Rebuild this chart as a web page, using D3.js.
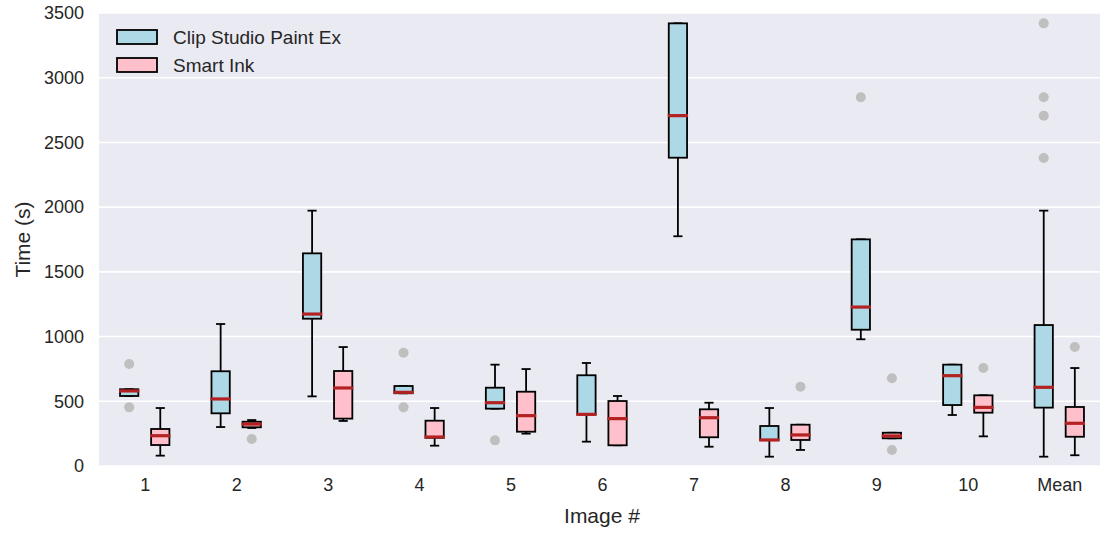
<!DOCTYPE html>
<html>
<head>
<meta charset="UTF-8">
<title>Time per image</title>
<style>
    body { margin: 0; background: #fff; }
    svg text { font-family: "Liberation Sans", Arial, sans-serif; fill: #262626; }
    .axis path, .axis line { display: none; }
    .grid line { stroke: #fff; stroke-width: 1.6; }
    .box { stroke: #000; stroke-width: 1.8; }
    .whisker { stroke: #000; stroke-width: 1.8; }
    .median { stroke: #b22222; stroke-width: 3.2; }
    .flier { fill: #bfbfbf; }
</style>
</head>
<body>
<script src="https://d3js.org/d3.v7.min.js"></script>
<script>
    var categories = ["1", "2", "3", "4", "5", "6", "7", "8", "9", "10", "Mean"];
    var yTicks = [0, 500, 1000, 1500, 2000, 2500, 3000, 3500];

    // Clip Studio Paint Ex
    var clipLow    = [541, 301, 538, 562, 443, 188, 1775, 72, 979, 394, 72];
    var clipQ1     = [541, 407, 1138, 562, 443, 399, 2382, 201, 1053, 471, 451];
    var clipMedian = [580, 518, 1174, 569, 489, 399, 2707, 201, 1228, 698, 608];
    var clipQ3     = [593, 732, 1643, 618, 605, 701, 3420, 309, 1751, 783, 1089];
    var clipHigh   = [593, 1097, 1973, 618, 783, 796, 3420, 448, 1751, 783, 1973];
    var clipFliers = [[788, 453], [], [], [875, 453], [198], [], [], [], [2849], [], [3420, 2849, 2707, 2380]];

    // Smart Ink
    var inkLow    = [80, 294, 348, 157, 250, 160, 149, 124, 214, 229, 83];
    var inkQ1     = [162, 299, 366, 218, 265, 160, 222, 201, 214, 412, 226];
    var inkMedian = [234, 324, 603, 224, 389, 366, 373, 240, 232, 453, 330];
    var inkQ3     = [286, 342, 734, 350, 574, 502, 438, 319, 257, 546, 456];
    var inkHigh   = [448, 355, 919, 448, 749, 541, 489, 319, 257, 546, 757];
    var inkFliers = [[], [209], [], [], [], [], [], [613], [678, 124], [757], [919]];

    var series = [
        {name: "Clip Studio Paint Ex", fill: "#add8e6", offset: -0.17,
         low: clipLow, q1: clipQ1, med: clipMedian, q3: clipQ3, high: clipHigh, fliers: clipFliers},
        {name: "Smart Ink", fill: "#ffc0cb", offset: 0.17,
         low: inkLow, q1: inkQ1, med: inkMedian, q3: inkQ3, high: inkHigh, fliers: inkFliers}
    ];

    var width = 1100, height = 533;
    var margin = {top: 13, left: 99, bottom: 67};
    var plotW = 1006, plotH = height - margin.top - margin.bottom;

    var x = d3.scaleLinear().domain([0.5, categories.length + 0.5]).range([0, plotW]);
    var y = d3.scaleLinear().domain([0, 3500]).range([plotH, 0]);
    var boxW = x(0.2) - x(0);
    var capW = x(0.1) - x(0);

    var svg = d3.select("body").append("svg")
        .attr("width", width)
        .attr("height", height);

    var g = svg.append("g")
        .attr("transform", "translate(" + margin.left + "," + margin.top + ")");

    g.append("rect")
        .attr("width", plotW)
        .attr("height", plotH)
        .attr("fill", "#eaeaf2");

    g.append("g").attr("class", "grid")
        .selectAll("line").data(yTicks).join("line")
        .attr("x1", 0).attr("x2", plotW)
        .attr("y1", function (d) { return y(d); })
        .attr("y2", function (d) { return y(d); });

    series.forEach(function (s) {
        var sg = g.append("g");
        categories.forEach(function (c, i) {
            var cx = x(i + 1 + s.offset);
            // whiskers
            sg.append("line").attr("class", "whisker")
                .attr("x1", cx).attr("x2", cx)
                .attr("y1", y(s.q3[i])).attr("y2", y(s.high[i]));
            sg.append("line").attr("class", "whisker")
                .attr("x1", cx).attr("x2", cx)
                .attr("y1", y(s.q1[i])).attr("y2", y(s.low[i]));
            sg.append("line").attr("class", "whisker")
                .attr("x1", cx - capW / 2).attr("x2", cx + capW / 2)
                .attr("y1", y(s.high[i])).attr("y2", y(s.high[i]));
            sg.append("line").attr("class", "whisker")
                .attr("x1", cx - capW / 2).attr("x2", cx + capW / 2)
                .attr("y1", y(s.low[i])).attr("y2", y(s.low[i]));
            // box
            sg.append("rect").attr("class", "box")
                .attr("x", cx - boxW / 2)
                .attr("y", y(s.q3[i]))
                .attr("width", boxW)
                .attr("height", Math.max(y(s.q1[i]) - y(s.q3[i]), 0.5))
                .attr("fill", s.fill);
            // median
            sg.append("line").attr("class", "median")
                .attr("x1", cx - boxW / 2 - 1).attr("x2", cx + boxW / 2 + 1)
                .attr("y1", y(s.med[i])).attr("y2", y(s.med[i]));
            // fliers
            sg.selectAll("circle.f" + i).data(s.fliers[i]).join("circle")
                .attr("class", "flier")
                .attr("cx", cx)
                .attr("cy", function (d) { return y(d); })
                .attr("r", 5);
        });
    });

    var xAxis = d3.axisBottom(x)
        .tickValues(d3.range(1, categories.length + 1))
        .tickFormat(function (d) { return categories[d - 1]; })
        .tickSize(0).tickPadding(12);
    g.append("g").attr("class", "axis")
        .attr("transform", "translate(0," + plotH + ")")
        .call(xAxis);

    var yAxis = d3.axisLeft(y)
        .tickValues(yTicks)
        .tickFormat(d3.format("d"))
        .tickSize(0).tickPadding(15);
    g.append("g").attr("class", "axis").call(yAxis);

    g.selectAll(".axis text").attr("fill", "#262626").style("font-size", "18px");

    svg.append("text")
        .attr("x", margin.left + x(6))
        .attr("y", 523)
        .attr("text-anchor", "middle")
        .style("font-size", "21px")
        .text("Image #");

    svg.append("text")
        .attr("transform", "translate(30," + (margin.top + plotH / 2) + ") rotate(-90)")
        .attr("text-anchor", "middle")
        .style("font-size", "21px")
        .text("Time (s)");

    // legend
    var legend = svg.append("g").attr("transform", "translate(117,30)");
    series.forEach(function (s, i) {
        var lg = legend.append("g").attr("transform", "translate(0," + i * 28 + ")");
        lg.append("rect")
            .attr("width", 40).attr("height", 14)
            .attr("fill", s.fill)
            .attr("stroke", "#000").attr("stroke-width", 1.8);
        lg.append("text")
            .attr("x", 56).attr("y", 14)
            .style("font-size", "19px")
            .text(s.name);
    });
</script>
</body>
</html>
